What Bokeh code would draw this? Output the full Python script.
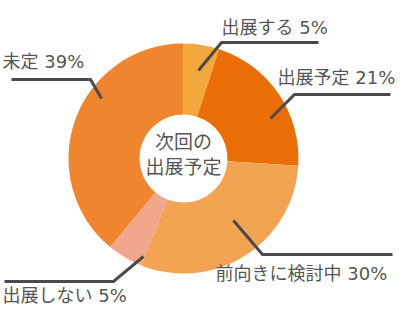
import math
from bokeh.plotting import figure
from bokeh.models import ColumnDataSource, Range1d
from bokeh.core.properties import value
from bokeh.embed import file_html
from bokeh.resources import INLINE

# ---- data ----
categories = ["出展する", "出展予定", "前向きに検討中", "出展しない", "未定"]
percents = [5, 21, 30, 5, 39]
colors = ["#F3A83E", "#EB6D05", "#F2A452", "#F1A78C", "#EF852E"]
center_title = ["次回の", "出展予定"]

W, H = 400, 320
CX, CY = 183, 158          # pixel centre of donut (top-left origin)
R_OUT, R_IN = 115, 44
FONT = "DejaVu Sans, Noto Sans CJK JP"
TXT = "#555555"
LINE = "#4a4a4a"

def fy(y):  # pixel-from-top to data y
    return H - y

total = sum(percents)
starts, ends = [], []
acc = 0.0
for v in percents:
    starts.append(math.pi / 2 - 2 * math.pi * acc / total)
    acc += v
    ends.append(math.pi / 2 - 2 * math.pi * acc / total)

src = ColumnDataSource(dict(cat=categories, val=percents, color=colors,
                            start=starts, end=ends))

p = figure(width=W, height=H, output_backend="svg", toolbar_location=None,
           x_range=Range1d(0, W), y_range=Range1d(0, H), min_border=0)
p.axis.visible = False
p.grid.visible = False
p.outline_line_color = None
p.background_fill_color = "white"
p.border_fill_color = "white"

p.annular_wedge(x=CX, y=fy(CY), inner_radius=R_IN, outer_radius=R_OUT,
                start_angle="start", end_angle="end", direction="clock",
                color="color", line_color=None, source=src)

# ---- leader-line / label layout (pixel positions, top-left origin) ----
layout = [
    ((198, 70), (221, 42), (318, 42), 221, 27),
    ((270, 118), (294, 94), (390, 94), 277, 77),
    ((233, 220), (262, 254), (392, 254), 215, 273),
    ((143, 256), (113, 281), (4, 281), 2, 295),
    ((101, 98), (90, 79), (11, 79), 2, 61),
]
xs, ys, lx, ly, lt = [], [], [], [], []
for (a, e, h, tx, ty), cat, v in zip(layout, categories, percents):
    xs.append([a[0], e[0], h[0]])
    ys.append([fy(a[1]), fy(e[1]), fy(h[1])])
    lx.append(tx)
    ly.append(fy(ty))
    lt.append(f"{cat} {v}%")

p.multi_line(xs=xs, ys=ys, line_color=LINE, line_width=3, line_join="miter")
p.text(x=lx, y=ly, text=lt, text_font=value(FONT), text_font_size="18px",
       text_color=TXT, text_baseline="middle", text_align="left")

p.text(x=[CX, CX], y=[fy(141), fy(166)], text=center_title,
       text_font=value(FONT), text_font_size="19px", text_color=TXT,
       text_baseline="middle", text_align="center")

open("out.html", "w").write(file_html(p, INLINE))
